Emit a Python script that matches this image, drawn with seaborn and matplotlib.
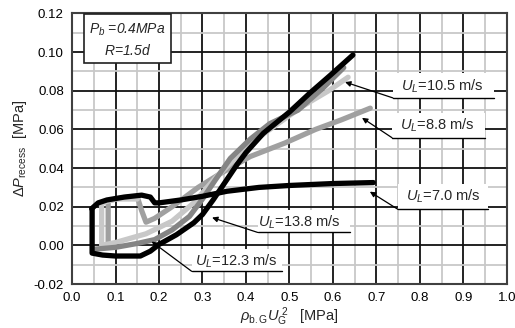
import matplotlib
matplotlib.use("Agg")
import matplotlib.pyplot as plt
from matplotlib.ticker import MultipleLocator, FormatStrFormatter
import seaborn as sns
import pandas as pd

sns.set_theme(style="white")
plt.rcParams['font.family'] = ['Liberation Sans', 'DejaVu Sans']
plt.rcParams['mathtext.fontset'] = 'custom'
plt.rcParams['mathtext.rm'] = 'Liberation Sans'
plt.rcParams['mathtext.it'] = 'Liberation Sans:italic'
plt.rcParams['mathtext.bf'] = 'Liberation Sans:bold'

# Measured recess pressure vs. gas momentum flux, one trace per liquid velocity
ul_88_x = [0.083, 0.083, 0.10, 0.13, 0.15, 0.16, 0.17, 0.19, 0.23, 0.29, 0.34, 0.41, 0.49, 0.56, 0.62, 0.686]
ul_88_y = [0.000, 0.023, 0.024, 0.025, 0.025, 0.018, 0.012, 0.014, 0.020, 0.030, 0.037, 0.046, 0.053, 0.060, 0.065, 0.071]

ul_105_x = [0.15, 0.10, 0.068, 0.068, 0.10, 0.17, 0.23, 0.28, 0.33, 0.38, 0.43, 0.48, 0.53, 0.59, 0.635]
ul_105_y = [0.024, 0.024, 0.022, 0.000, 0.0015, 0.006, 0.0125, 0.022, 0.035, 0.046, 0.056, 0.064, 0.072, 0.080, 0.087]

ul_123_x = [0.05, 0.10, 0.15, 0.19, 0.23, 0.27, 0.30, 0.33, 0.364, 0.41, 0.455, 0.52, 0.58, 0.625]
ul_123_y = [-0.002, -0.001, 0.001, 0.003, 0.008, 0.015, 0.024, 0.034, 0.045, 0.055, 0.063, 0.070, 0.082, 0.092]

ul_70_x = [0.045, 0.06, 0.08, 0.12, 0.16, 0.18, 0.19, 0.20, 0.25, 0.30, 0.356, 0.43, 0.50, 0.60, 0.693]
ul_70_y = [0.019, 0.022, 0.0235, 0.025, 0.026, 0.025, 0.022, 0.022, 0.0235, 0.0254, 0.028, 0.030, 0.031, 0.032, 0.0325]

ul_138_x = [0.046, 0.046, 0.07, 0.10, 0.157, 0.18, 0.20, 0.24, 0.28, 0.30, 0.325, 0.356, 0.38, 0.40, 0.44, 0.50, 0.548, 0.594, 0.646]
ul_138_y = [0.019, -0.004, -0.005, -0.0055, -0.0055, -0.003, 0.0005, 0.0055, 0.0117, 0.016, 0.0237, 0.034, 0.042, 0.048, 0.058, 0.069, 0.079, 0.088, 0.0985]

series = [
    ("8.8", ul_88_x, ul_88_y, "#a0a0a0"),
    ("10.5", ul_105_x, ul_105_y, "#c8c8c8"),
    ("12.3", ul_123_x, ul_123_y, "#858585"),
    ("7.0", ul_70_x, ul_70_y, "#000000"),
    ("13.8", ul_138_x, ul_138_y, "#000000"),
]

fig = plt.figure(figsize=(5.15, 3.28), dpi=100)
ax = fig.add_axes([0.140, 0.134, 0.844, 0.825])

for name, xs, ys, col in series:
    df = pd.DataFrame({"x": xs, "y": ys})
    sns.lineplot(data=df, x="x", y="y", sort=False, estimator=None,
                 color=col, linewidth=3.8, ax=ax, zorder=3)

ax.set_xlim(0, 1.0)
ax.set_ylim(-0.02, 0.12)
ax.xaxis.set_major_locator(MultipleLocator(0.1))
ax.xaxis.set_minor_locator(MultipleLocator(0.05))
ax.yaxis.set_major_locator(MultipleLocator(0.02))
ax.yaxis.set_minor_locator(MultipleLocator(0.01))
ax.xaxis.set_major_formatter(FormatStrFormatter('%.1f'))
ax.yaxis.set_major_formatter(FormatStrFormatter('%.2f'))
ax.set_axisbelow(True)
ax.grid(which='minor', color='#c8c8c8', linewidth=1.3)
ax.grid(which='major', color='#111111', linewidth=1.3)
ax.tick_params(which='both', length=0, labelsize=9.5, colors='black', pad=6)
for sp in ax.spines.values():
    sp.set_color('#404040')
    sp.set_linewidth(1.5)

ax.set_xlabel(r"$\rho_{\mathrm{b.G}}U_{\mathrm{G}}^{\;2}$   [MPa]", fontsize=10.5, labelpad=1)
ax.set_ylabel(r"$\Delta P_{\mathrm{recess}}$  [MPa]", fontsize=10.5, labelpad=3)

# Operating condition box
ax.text(0.127, 0.1065, r"$P_{b}$ =0.4MPa" + "\n" + r"$R$=1.5$d$", ha='center', va='center',
        fontsize=10, style='italic', linespacing=1.45, zorder=6,
        bbox=dict(boxstyle='square,pad=0.4', facecolor='white', edgecolor='#202020', linewidth=1.2))

# Callout labels: (text, text x, text y, underline x0, x1, underline y, arrow tip x, tip y)
callouts = [
    ("10.5", 0.853, 0.0825, 0.738, 0.971, 0.0763, 0.628, 0.0845),
    ("8.8", 0.840, 0.0619, 0.736, 0.950, 0.0557, 0.667, 0.0660),
    ("7.0", 0.853, 0.0253, 0.750, 0.957, 0.0186, 0.685, 0.0278),
    ("13.8", 0.524, 0.0119, 0.427, 0.639, 0.0067, 0.322, 0.0144),
    ("12.3", 0.379, -0.0082, 0.275, 0.483, -0.0134, 0.183, 0.0020),
]
for lab, tx, ty, ux0, ux1, uy, px, py in callouts:
    ax.fill_between([ux0, ux1], uy, ty + 0.0065, color='white', zorder=4, linewidth=0)
    ax.text(tx, ty, r"$U_{L}$=" + lab + " m/s", ha='center', va='center',
            fontsize=10.5, zorder=6)
    ax.plot([ux0, ux1], [uy, uy], color='black', linewidth=1.0, zorder=5)
    ax.annotate("", xy=(px, py), xytext=(ux0, uy), zorder=5,
                arrowprops=dict(arrowstyle='-|>', color='black', lw=0.9,
                                mutation_scale=8, shrinkA=0, shrinkB=0))

fig.savefig("out.png", dpi=100)
